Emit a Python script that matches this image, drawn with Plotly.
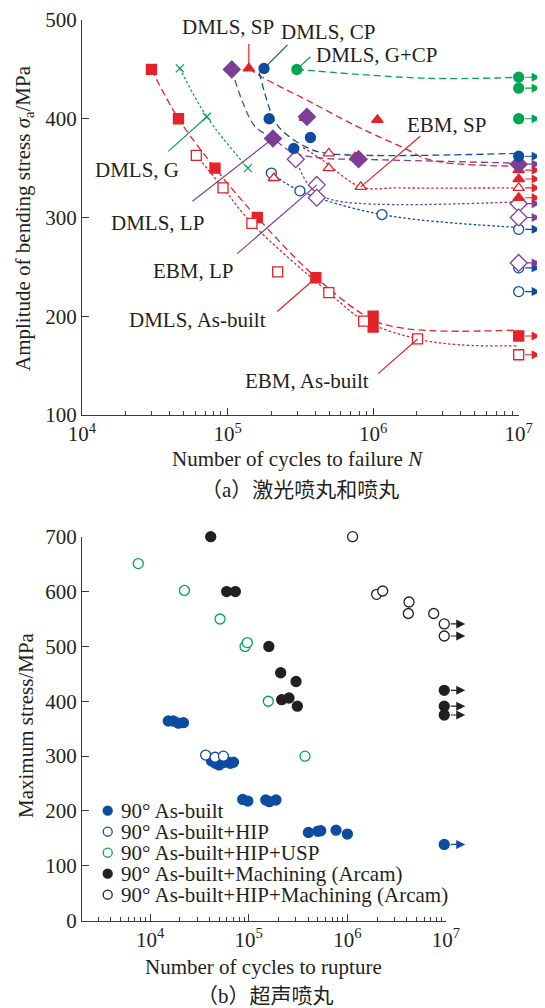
import math
import plotly.graph_objects as go

# The page body has an 8 px default margin, so the figure is drawn 8 px in from the corner.
PAGE_W, PAGE_H, BODY_MARGIN = 545, 1008, 8
W, H = PAGE_W - BODY_MARGIN, PAGE_H - BODY_MARGIN
RED = "#E52129"
BLUE = "#0D4CA1"
GREEN = "#00A650"
PURPLE = "#7B3F98"
BLACK = "#231F20"
AXC = "#3a3a3a"
FONT = "Liberation Serif, Noto Sans CJK SC, serif"

RUNOUT_N = 1e7

# ---------------- (a) laser peening / shot peening ----------------
DMLS_AB_N = [30000, 46000, 82000, 160000, 404000, 1.0e6, 1.0e6]
DMLS_AB_S = [450, 400, 350, 300, 239, 200, 189]
DMLS_AB_RUN = [180]
DMLS_AB_FIT_N = [30000, 46000, 82000, 160000, 400000, 1.0e6, 1.6e6, 3e6, 1e7]
DMLS_AB_FIT_S = [450, 400, 350, 300, 240, 196, 188, 185, 186]

EBM_AB_N = [61000, 93000, 147000, 221000, 496000, 861000, 2.02e6]
EBM_AB_S = [363, 330, 294, 245, 224, 195, 177]
EBM_AB_RUN = [161]
EBM_AB_FIT_N = [61000, 93000, 147000, 496000, 861000, 2.02e6, 4e6, 1e7]
EBM_AB_FIT_S = [363, 330, 294, 224, 196, 177, 171, 170]

DMLS_G_N = [47000, 72000, 138000]
DMLS_G_S = [451, 402, 350]

DMLS_LP_N = [107000, 205000, 351000, 794000]
DMLS_LP_S = [450, 380, 402, 359]
DMLS_LP_RUN = [354]
DMLS_LP_FIT_N = [107000, 126000, 155000, 205000, 280000, 450000, 794000, 1e7]
DMLS_LP_FIT_S = [450, 418, 392, 380, 366, 360, 359, 355]

DMLS_SP_N = [140000, 340000, 1.07e6, 750000]
DMLS_SP_S = [451, 401, 399, 361]
DMLS_SP_RUN = [348, 339, 320]
DMLS_SP_FIT_N = [140000, 178000, 350000, 780000, 1.6e6, 2.5e6, 1e7]
DMLS_SP_FIT_S = [451, 441, 419, 392, 371, 358, 352]

DMLS_CP_N = [178000, 193000, 285000, 371000]
DMLS_CP_S = [451, 400, 370, 381]
DMLS_CP_RUN = [362]
DMLS_CP_FIT_N = [165000, 185000, 210000, 245000, 350000, 480000, 1e7]
DMLS_CP_FIT_S = [447, 420, 398, 386, 371, 365, 365]

DMLS_GCP_N = [299000]
DMLS_GCP_S = [450]
DMLS_GCP_RUN = [442, 431, 400]
DMLS_GCP_FIT_N = [299000, 2.3e6, 1e7]
DMLS_GCP_FIT_S = [450, 441, 442]

EBM_SP_N = [208000, 496000, 496000, 822000]
EBM_SP_S = [340, 365, 350, 331]
EBM_SP_RUN = [330]
EBM_SP_FIT_N = [330000, 450000, 822000, 1.5e6, 1e7]
EBM_SP_FIT_S = [371, 358, 331, 330, 330]

EBM_LP_N = [294000, 410000, 410000]
EBM_LP_S = [359, 333, 320]
EBM_LP_RUN = [314, 300, 254]
EBM_LP_FIT_N = [294000, 370000, 520000, 1e7]
EBM_LP_FIT_S = [359, 331, 318, 316]

EBM_CP_N = [200000, 314000, 1.15e6]
EBM_CP_S = [345, 327, 303]
EBM_CP_RUN = [288, 249, 225]
EBM_CP_FIT_N = [200000, 314000, 1.15e6, 1e7]
EBM_CP_FIT_S = [345, 327, 303, 290]

# ---------------- (b) ultrasonic shot peening ----------------
AB_N = [15300, 17200, 19400, 21800,
        42000, 46000, 50000, 55000, 60000, 65000, 70000,
        87000, 98000, 149000, 162000, 189000,
        403000, 501000, 537000, 768000, 1.0e6]
AB_S = [364, 364, 360, 361,
        291, 287, 284, 288, 290, 287, 289,
        221, 218, 220, 217, 220,
        161, 163, 164, 165, 158]
AB_RUN_N = [9.6e6]
AB_RUN_S = [139]

HIP_N = [36600, 45600, 55400]
HIP_S = [302, 298, 300]

USP_N = [7600, 22300, 51200, 91800, 96800, 158000, 372000]
USP_S = [651, 602, 550, 500, 507, 400, 300]

MACH_N = [41200, 59800, 73200, 160000, 211000, 302000, 216000, 256000, 311000]
MACH_S = [700, 600, 600, 500, 452, 436, 403, 406, 391]
MACH_RUN_N = [9.6e6, 9.6e6, 9.6e6]
MACH_RUN_S = [420, 391, 375]

HIPM_N = [1.13e6, 1.98e6, 2.28e6, 4.22e6, 4.15e6, 7.5e6]
HIPM_S = [700, 595, 601, 581, 560, 560]
HIPM_RUN_N = [9.6e6, 9.6e6]
HIPM_RUN_S = [541, 519]

LEGEND_B = [
    ("90° As-built", BLUE, True),
    ("90° As-built+HIP", BLUE, False),
    ("90° As-built+HIP+USP", GREEN, False),
    ("90° As-built+Machining (Arcam)", BLACK, True),
    ("90° As-built+HIP+Machining (Arcam)", BLACK, False),
]

# ---------------- layout geometry (page pixels -> paper) ----------------
def px(x):
    return (x - BODY_MARGIN) / W


def py(y):
    return 1 - (y - BODY_MARGIN) / H


fig = go.Figure()
annotations = []


def pts(xa, ya, n, s, symbol, color, size, open_=False, lw=1.3):
    fig.add_trace(go.Scatter(
        x=n, y=s, xaxis=xa, yaxis=ya, mode="markers", cliponaxis=False,
        showlegend=False, hoverinfo="skip",
        marker=dict(symbol=symbol, size=size,
                    color=("white" if open_ else color) if not symbol.startswith("x") else color,
                    line=dict(color=color, width=lw))))


def fit(xa, ya, n, s, color, dash):
    fig.add_trace(go.Scatter(
        x=n, y=s, xaxis=xa, yaxis=ya, mode="lines", cliponaxis=False,
        showlegend=False, hoverinfo="skip", line_shape="spline",
        line=dict(color=color, width=1.3, dash=dash)))


def runouts(xref, yref, n_list, s_list, color, length=22, gap=5):
    # arrow head sits `length` px right of the runout marker, tail starts at the marker edge
    for n, s in zip(n_list, s_list):
        annotations.append(dict(
            x=math.log10(n), y=s, xref=xref, yref=yref, text="", showarrow=True,
            xshift=length, ax=-length, ay=0, arrowhead=2, arrowsize=1.5,
            arrowwidth=1.2, arrowcolor=color, standoff=0, startstandoff=gap))


DASH = "7px,4px"
DOT = "2.5px,2.2px"

# fitted curves (a)
fit("x", "y", DMLS_AB_FIT_N, DMLS_AB_FIT_S, RED, DASH)
fit("x", "y", EBM_AB_FIT_N, EBM_AB_FIT_S, RED, DOT)
fit("x", "y", DMLS_G_N, DMLS_G_S, GREEN, DOT)
fit("x", "y", DMLS_LP_FIT_N, DMLS_LP_FIT_S, PURPLE, DASH)
fit("x", "y", DMLS_SP_FIT_N, DMLS_SP_FIT_S, RED, DASH)
fit("x", "y", DMLS_CP_FIT_N, DMLS_CP_FIT_S, BLUE, DASH)
fit("x", "y", DMLS_GCP_FIT_N, DMLS_GCP_FIT_S, GREEN, DASH)
fit("x", "y", EBM_SP_FIT_N, EBM_SP_FIT_S, RED, DOT)
fit("x", "y", EBM_LP_FIT_N, EBM_LP_FIT_S, PURPLE, DOT)
fit("x", "y", EBM_CP_FIT_N, EBM_CP_FIT_S, BLUE, DOT)

# points (a)
R = lambda lst: [RUNOUT_N] * len(lst)
pts("x", "y", DMLS_AB_N + R(DMLS_AB_RUN), DMLS_AB_S + DMLS_AB_RUN, "square", RED, 10)
pts("x", "y", EBM_AB_N + R(EBM_AB_RUN), EBM_AB_S + EBM_AB_RUN, "square", RED, 10, True)
pts("x", "y", DMLS_G_N, DMLS_G_S, "x-thin", GREEN, 8)
pts("x", "y", EBM_CP_N + R(EBM_CP_RUN), EBM_CP_S + EBM_CP_RUN, "circle", BLUE, 10, True)
pts("x", "y", EBM_LP_N + R(EBM_LP_RUN), EBM_LP_S + EBM_LP_RUN, "diamond", PURPLE, 13, True)
pts("x", "y", EBM_SP_N + R(EBM_SP_RUN), EBM_SP_S + EBM_SP_RUN, "triangle-up", RED, 10, True)
pts("x", "y", DMLS_SP_N + R(DMLS_SP_RUN), DMLS_SP_S + DMLS_SP_RUN, "triangle-up", RED, 10)
pts("x", "y", DMLS_LP_N + R(DMLS_LP_RUN), DMLS_LP_S + DMLS_LP_RUN, "diamond", PURPLE, 13)
pts("x", "y", DMLS_CP_N + R(DMLS_CP_RUN), DMLS_CP_S + DMLS_CP_RUN, "circle", BLUE, 10)
pts("x", "y", DMLS_GCP_N + R(DMLS_GCP_RUN), DMLS_GCP_S + DMLS_GCP_RUN, "circle", GREEN, 10)

runouts("x", "y", R(DMLS_AB_RUN), DMLS_AB_RUN, RED)
runouts("x", "y", R(EBM_AB_RUN), EBM_AB_RUN, RED)
runouts("x", "y", R(EBM_CP_RUN), EBM_CP_RUN, BLUE)
runouts("x", "y", R(EBM_LP_RUN), EBM_LP_RUN, PURPLE, gap=6)
runouts("x", "y", R(EBM_SP_RUN), EBM_SP_RUN, RED)
runouts("x", "y", R(DMLS_SP_RUN), DMLS_SP_RUN, RED)
runouts("x", "y", R(DMLS_LP_RUN), DMLS_LP_RUN, PURPLE, gap=6)
runouts("x", "y", R(DMLS_CP_RUN), DMLS_CP_RUN, BLUE)
runouts("x", "y", R(DMLS_GCP_RUN), DMLS_GCP_RUN, GREEN)

# labels with leader lines: (text, anchor N, anchor S, color, text shift, leader tail offset)
LABELS = [
    ("DMLS, SP", DMLS_SP_N[0], DMLS_SP_S[0], RED, (-21, 41), (0, -26)),
    ("DMLS, CP", DMLS_CP_N[0], DMLS_CP_S[0], BLUE, (64, 36), (25, -25)),
    ("DMLS, G+CP", DMLS_GCP_N[0], DMLS_GCP_S[0], GREEN, (80, 14), (15, -14)),
    ("EBM, SP", EBM_SP_N[3], EBM_SP_S[3], RED, (86, 62), (61, -52)),
    ("DMLS, G", DMLS_G_N[1], DMLS_G_S[1], GREEN, (-70, -53), (-40, 36)),
    ("DMLS, LP", DMLS_LP_N[1], DMLS_LP_S[1], PURPLE, (-115, -84), (-82, 64)),
    ("EBM, LP", EBM_LP_N[1], EBM_LP_S[1], PURPLE, (-123, -86), (-81, 70)),
    ("DMLS, As-built", DMLS_AB_N[4], DMLS_AB_S[4], RED, (-118, -42), (-40, 35)),
    ("EBM, As-built", EBM_AB_N[6], EBM_AB_S[6], RED, (-111, -42), (-41, 36)),
]
for text, n, s, col, (dx, dy), (lx, ly) in LABELS:
    annotations.append(dict(x=math.log10(n), y=s, xref="x", yref="y", text="", showarrow=True,
                            ax=lx, ay=ly, arrowhead=0, arrowwidth=1.2, arrowcolor=col,
                            standoff=0, startstandoff=0))
    annotations.append(dict(x=math.log10(n), y=s, xref="x", yref="y", text=text, showarrow=False,
                            xshift=dx, yshift=dy, font=dict(size=21, color=BLACK, family=FONT)))

# ---------------- (b) ----------------
pts("x2", "y2", USP_N, USP_S, "circle", GREEN, 10, True)
pts("x2", "y2", MACH_N + MACH_RUN_N, MACH_S + MACH_RUN_S, "circle", BLACK, 10)
pts("x2", "y2", HIPM_N + HIPM_RUN_N, HIPM_S + HIPM_RUN_S, "circle", BLACK, 10, True)
pts("x2", "y2", AB_N + AB_RUN_N, AB_S + AB_RUN_S, "circle", BLUE, 10)
pts("x2", "y2", HIP_N, HIP_S, "circle", BLUE, 10, True)
runouts("x2", "y2", MACH_RUN_N, MACH_RUN_S, BLACK, length=21)
runouts("x2", "y2", HIPM_RUN_N, HIPM_RUN_S, BLACK, length=21)
runouts("x2", "y2", AB_RUN_N, AB_RUN_S, BLUE, length=21)

# manual legend for (b)
shapes = []
LEG_Y0, LEG_DY = 810.7, 21.0
for i, (txt, col, filled) in enumerate(LEGEND_B):
    yy = LEG_Y0 + i * LEG_DY
    shapes.append(dict(type="circle", xref="paper", yref="paper", xsizemode="pixel", ysizemode="pixel",
                       xanchor=px(107.7), yanchor=py(yy), x0=-4.5, x1=4.5, y0=-4.5, y1=4.5,
                       fillcolor=col if filled else "white", line=dict(color=col, width=1.3)))
    annotations.append(dict(x=px(119), y=py(yy), xref="paper", yref="paper", text=txt, showarrow=False,
                            xanchor="left", yanchor="middle", font=dict(size=21, color=BLACK, family=FONT)))

# axis titles & captions
def title(text, x, y, angle=0):
    annotations.append(dict(x=px(x), y=py(y), xref="paper", yref="paper", text=text, showarrow=False,
                            textangle=angle, xanchor="center", yanchor="middle",
                            font=dict(size=21, color=BLACK, family=FONT)))

title("Amplitude of bending stress <i>σ</i><sub>a</sub>/MPa", 24, 218, -90)
title("Number of cycles to failure <i>N</i>", 297, 459)
title("（a）激光喷丸和喷丸", 300, 490)
title("Maximum stress/MPa", 26, 725, -90)
title("Number of cycles to rupture", 263, 967)
title("（b）超声喷丸", 265, 996)

axis_common = dict(showline=True, linecolor=AXC, linewidth=1.3, mirror=False, showgrid=False,
                   zeroline=False, ticks="inside", ticklen=7, tickwidth=1.2, tickcolor=AXC,
                   automargin=False,
                   tickfont=dict(size=21, color=BLACK, family=FONT))

minor_a = [k * 10 ** e for e in range(4, 7) for k in range(2, 10)]
minor_b = [k * 10 ** e for e in range(3, 7) for k in range(2, 10) if k * 10 ** e >= 2100]

fig.update_layout(
    width=W, height=H, margin=dict(l=0, r=0, t=0, b=0, autoexpand=False),
    paper_bgcolor="white", plot_bgcolor="white",
    font=dict(family=FONT, size=21, color=BLACK),
    showlegend=False,
    xaxis=dict(domain=[px(82), px(518.7)], anchor="y", type="log", range=[4, 7],
               tickvals=[1e4, 1e5, 1e6, 1e7],
               ticktext=["10<sup>4</sup>", "10<sup>5</sup>", "10<sup>6</sup>", "10<sup>7</sup>"],
               minor=dict(tickvals=minor_a, ticks="inside", ticklen=4, tickcolor=AXC, showgrid=False),
               **axis_common),
    yaxis=dict(domain=[py(415), py(20)], anchor="x", range=[100, 500], dtick=100, **axis_common),
    xaxis2=dict(domain=[px(82), px(446)], anchor="y2", type="log", range=[3.31, 7],
                tickvals=[1e4, 1e5, 1e6, 1e7],
                ticktext=["10<sup>4</sup>", "10<sup>5</sup>", "10<sup>6</sup>", "10<sup>7</sup>"],
                minor=dict(tickvals=minor_b, ticks="inside", ticklen=4, tickcolor=AXC, showgrid=False),
                **axis_common),
    yaxis2=dict(domain=[py(920.7), py(536.7)], anchor="x2", range=[0, 700], dtick=100, **axis_common),
    annotations=annotations,
    shapes=shapes,
)

fig.write_html("out.html")
